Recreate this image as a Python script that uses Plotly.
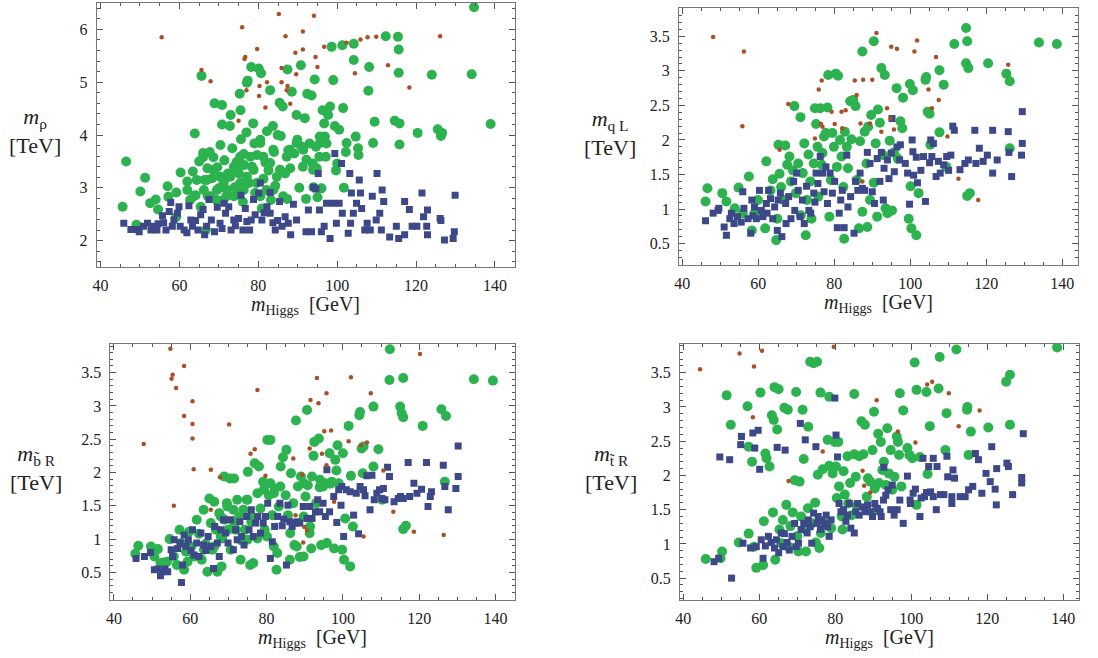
import plotly.graph_objects as go

# ---------------- data (m_Higgs [GeV], mass [TeV]) ----------------
RHO_GREEN = [(45.6,2.64),(46.5,3.50),(50.1,2.93),(51.3,3.19),(52.6,2.71),(54.0,2.78),(54.6,2.59),(57.0,3.03),(57.2,2.83),(59.2,2.91),(60.3,3.29),(62.0,3.12),(62.7,2.77),(63.4,3.31),(63.9,4.03),(64.1,2.86),(64.4,3.15),(65.0,3.50),(65.6,5.12),(65.4,2.64),(66.0,3.58),(66.4,3.15),(67.1,3.37),(67.2,2.84),(67.7,3.68),(68.3,3.18),(68.6,3.58),(68.9,4.60),(69.4,2.77),(69.6,3.39),(70.0,2.99),(70.4,3.81),(70.8,4.57),(70.8,4.20),(71.3,3.14),(71.4,3.52),(71.9,2.84),(72.3,3.27),(72.8,4.17),(73.0,4.38),(73.4,3.75),(73.8,3.40),(74.0,3.01),(74.5,3.49),(75.0,2.87),(75.1,3.27),(75.3,4.78),(75.5,4.47),(75.6,3.92),(76.1,2.73),(76.3,3.64),(76.4,3.43),(77.0,4.05),(77.1,4.99),(77.3,5.03),(77.6,3.09),(78.2,5.29),(78.4,3.40),(78.7,4.22),(79.0,3.84),(79.2,2.90),(79.7,3.62),(80.1,5.26),(80.5,3.91),(80.7,5.17),(80.9,2.61),(81.3,3.17),(81.8,3.48),(82.2,4.07),(82.6,3.33),(83.0,4.85),(83.2,2.77),(83.7,4.17),(84.0,3.68),(84.3,3.04),(84.9,4.00),(85.4,4.61),(85.7,3.98),(86.2,4.54),(86.8,3.27),(87.3,2.79),(87.4,5.24),(87.6,3.71),(88.1,3.37),(88.5,4.82),(89.1,3.65),(89.7,4.38),(89.9,3.91),(90.4,3.00),(90.8,5.32),(91.0,3.78),(91.3,3.40),(91.8,4.32),(92.1,2.79),(92.4,4.78),(93.0,3.84),(93.5,4.75),(93.8,3.46),(94.0,3.01),(94.3,5.05),(94.6,3.78),(95.0,2.82),(95.5,3.59),(96.0,2.99),(96.3,4.47),(96.7,4.22),(96.9,3.97),(97.3,3.84),(97.7,4.38),(98.2,4.54),(98.6,5.67),(99.0,5.04),(99.4,4.17),(99.7,3.33),(100.0,3.46),(100.5,4.10),(101.3,5.70),(101.5,4.51),(101.7,3.00),(102.2,3.68),(102.4,3.85),(104.2,5.73),(104.2,5.42),(104.7,3.97),(105.3,3.75),(105.4,3.62),(108.1,5.29),(107.9,4.84),(109.1,3.85),(109.5,4.25),(112.3,5.87),(114.6,4.27),(115.4,5.86),(115.6,5.62),(115.6,5.18),(115.8,4.22),(115.8,3.82),(120.4,4.04),(124.0,5.14),(125.5,4.11),(126.3,3.98),(126.6,4.04),(134.1,5.15),(134.7,6.42),(138.9,4.21),(97.1,3.59),(95.6,3.97),(94.8,3.37),(49.1,2.30),(59.2,2.45),(66.7,2.20),
             (66.0,3.66),(68.7,3.34),(70.4,3.21),(71.2,3.09),(72.1,2.96),(69.5,2.96),(72.9,3.21),(74.6,3.34),(75.4,3.09),(73.8,2.84),(76.3,2.96),(77.1,3.21),(78.8,3.34),(79.6,3.09),(78.0,3.59),(81.3,3.59),(80.5,3.85),(83.8,3.72),(83.0,3.47),(84.7,3.21),(85.5,3.34),(87.2,3.59),(83.8,2.96),(86.3,2.84),(88.0,3.72),(89.7,3.85),(91.4,3.72),(92.2,3.53),(93.9,3.34),(95.6,3.85),(67.0,3.15),(66.2,2.96),(67.9,2.84),(63.7,2.84),(62.0,2.96),(71.2,2.77),(75.4,3.59),(82.1,2.96),(80.5,2.84)]
RHO_BLUE = [(45.9,2.33),(47.7,2.21),(49.2,2.21),(49.8,2.17),(50.9,2.27),(51.9,2.33),(52.8,2.20),(53.4,2.27),(54.3,2.20),(54.6,2.32),(55.7,2.47),(56.0,2.34),(56.6,2.20),(57.4,2.55),(57.8,2.72),(58.2,2.27),(58.6,2.39),(59.5,2.52),(59.9,2.64),(60.2,2.27),(61.2,2.20),(61.9,2.15),(62.4,2.66),(62.9,2.39),(63.3,2.27),(64.1,2.38),(64.7,2.20),(65.4,2.49),(66.0,2.59),(66.4,2.11),(66.9,2.27),(67.5,2.78),(68.1,2.39),(68.9,2.17),(69.6,2.63),(70.3,2.33),(70.8,2.23),(71.3,2.71),(71.7,2.52),(72.5,2.64),(73.1,2.20),(73.8,2.39),(74.2,2.28),(75.0,2.42),(75.6,2.86),(76.1,2.20),(76.7,2.61),(77.1,2.36),(77.8,2.20),(78.2,2.39),(78.8,2.78),(79.2,2.49),(80.1,2.90),(80.5,3.09),(80.9,2.39),(81.5,2.53),(82.2,2.64),(83.0,2.91),(83.0,2.52),(83.7,2.34),(84.3,2.20),(84.9,2.38),(85.4,2.74),(86.0,2.27),(86.8,2.45),(87.6,2.33),(88.2,2.11),(88.9,2.69),(89.7,2.39),(92.1,2.17),(92.7,2.58),(93.5,2.17),(94.0,3.01),(94.6,2.98),(95.2,3.27),(95.5,2.58),(96.0,2.17),(96.7,2.27),(97.3,2.71),(98.2,2.04),(99.0,2.71),(99.4,3.65),(99.8,2.33),(100.5,2.71),(101.1,3.46),(101.3,2.52),(102.8,2.14),(103.2,3.27),(103.4,2.33),(103.6,2.90),(104.1,2.52),(104.9,2.71),(105.6,3.15),(105.9,2.90),(106.2,2.61),(107.0,2.20),(107.6,2.33),(108.4,2.20),(108.9,2.84),(109.9,2.39),(110.1,3.27),(110.8,2.52),(111.2,2.20),(111.4,2.96),(111.8,2.74),(113.3,2.07),(115.0,2.27),(115.6,2.04),(117.1,2.74),(117.1,2.11),(118.3,2.59),(119.0,2.27),(120.2,2.27),(121.5,2.90),(121.9,2.45),(122.7,2.27),(122.9,2.58),(122.9,2.11),(126.1,2.42),(126.3,2.38),(127.2,2.01),(129.4,2.04),(129.7,2.17),(129.9,2.86)]
RHO_BROWN = [(55.5,5.85),(65.6,5.23),(67.9,5.02),(75.9,6.04),(76.5,5.44),(76.7,5.48),(77.0,4.85),(79.7,5.63),(80.3,4.93),(80.2,4.74),(81.8,4.52),(82.2,5.00),(75.0,4.27),(85.2,6.29),(86.9,5.87),(85.9,5.27),(85.9,5.00),(87.2,4.85),(87.4,4.93),(88.1,4.59),(89.4,5.56),(89.6,5.15),(91.3,5.96),(91.3,5.62),(94.1,6.26),(94.5,5.48),(95.0,5.29),(96.7,5.67),(102.4,5.75),(104.5,5.17),(105.9,5.81),(107.7,5.85),(109.9,5.86),(112.9,5.32),(118.3,4.90),(126.1,5.87)]

QL_GREEN = [(46.1,1.11),(46.6,1.30),(50.5,1.23),(51.6,1.11),(53.8,1.01),(54.8,1.31),(55.9,0.94),(57.5,1.47),(58.3,0.69),(59.0,0.94),(59.9,1.13),(61.8,0.72),(62.1,1.69),(63.2,1.27),(63.8,1.43),(64.7,0.55),(65.0,0.86),(65.3,1.93),(65.6,1.51),(66.0,1.32),(66.7,1.13),(67.1,1.92),(67.6,1.64),(68.2,1.76),(68.6,1.40),(69.1,1.56),(69.5,2.49),(69.9,1.23),(70.5,1.66),(71.1,2.33),(71.2,0.91),(71.7,1.52),(72.1,1.95),(72.5,0.62),(72.8,1.13),(73.2,1.79),(73.7,1.40),(74.0,0.86),(74.6,1.66),(74.9,2.46),(75.2,2.23),(75.6,1.90),(75.8,1.18),(76.3,2.46),(76.7,1.64),(76.9,1.81),(77.3,2.05),(77.8,2.10),(78.2,2.47),(78.4,2.94),(78.7,0.89),(79.1,1.42),(79.5,2.10),(79.9,1.90),(80.4,2.96),(80.7,1.61),(81.0,2.93),(81.5,2.00),(81.9,1.76),(82.4,1.32),(82.6,0.57),(82.8,2.12),(83.3,1.90),(83.6,1.59),(84.2,2.56),(84.5,2.01),(85.0,2.58),(85.6,2.49),(85.9,1.42),(86.5,0.72),(86.8,1.98),(87.4,3.28),(87.4,0.96),(88.0,2.12),(88.5,1.66),(88.7,0.74),(88.9,2.19),(89.4,1.13),(89.7,2.36),(90.4,3.43),(90.4,1.38),(90.9,1.95),(91.3,0.89),(91.5,2.44),(92.0,2.25),(92.4,3.04),(92.9,1.78),(93.3,2.94),(93.5,1.01),(94.0,0.94),(94.6,1.99),(95.2,0.98),(95.7,1.82),(96.4,2.75),(96.7,1.73),(97.4,2.27),(97.9,2.17),(98.1,2.61),(99.6,0.86),(99.9,2.81),(100.1,1.33),(100.3,0.72),(100.7,2.72),(101.6,0.62),(102.2,1.23),(104.0,2.87),(104.2,2.91),(104.6,2.41),(105.1,2.38),(105.3,1.93),(107.7,3.01),(107.7,2.11),(108.8,2.80),(109.5,1.61),(111.6,3.39),(114.7,3.62),(115.0,3.43),(114.7,3.11),(115.3,3.04),(115.0,1.19),(115.7,1.23),(120.5,3.11),(125.3,2.96),(126.2,2.85),(126.2,1.88),(133.9,3.41),(138.6,3.39)]
QL_BLUE = [(46.1,0.83),(48.1,0.94),(49.4,0.98),(49.6,1.01),(51.0,0.74),(51.6,0.62),(52.5,0.86),(52.9,0.94),(53.6,0.79),(54.5,0.89),(55.5,0.81),(55.9,1.25),(56.2,1.01),(57.3,0.86),(58.0,0.65),(58.3,1.13),(58.6,0.90),(59.0,1.03),(59.5,0.86),(60.3,1.27),(60.8,0.98),(61.2,0.89),(62.1,1.08),(62.3,0.94),(62.7,1.27),(63.2,1.15),(63.8,0.86),(64.3,1.03),(65.0,0.69),(65.2,1.13),(65.8,1.23),(66.2,0.60),(67.2,1.08),(67.3,0.79),(68.0,1.18),(68.6,0.86),(69.3,1.40),(69.6,0.98),(70.1,1.52),(70.5,1.27),(71.0,0.89),(71.6,1.13),(72.1,0.79),(72.7,1.33),(73.3,0.98),(73.8,0.94),(74.6,1.23),(74.9,1.10),(75.2,1.52),(75.7,1.37),(76.3,1.76),(76.9,1.52),(77.3,1.25),(77.8,1.61),(78.2,1.08),(78.9,1.52),(79.5,1.23),(80.1,1.40),(80.8,0.73),(81.3,0.94),(81.7,1.13),(82.1,1.27),(82.6,0.73),(83.3,1.78),(83.6,1.03),(84.3,1.18),(85.2,0.65),(85.6,1.40),(86.2,1.27),(86.8,1.52),(87.4,1.30),(88.0,1.27),(88.7,1.82),(89.4,1.66),(90.0,1.25),(90.6,1.08),(91.3,1.73),(92.0,1.40),(92.4,1.82),(92.9,1.13),(93.1,1.59),(94.0,1.71),(94.4,1.44),(95.0,1.81),(95.2,2.31),(95.8,1.54),(96.5,1.90),(97.2,1.71),(97.4,1.93),(98.7,1.66),(99.3,1.52),(99.8,1.07),(100.5,2.00),(100.7,1.83),(100.9,1.49),(101.6,1.75),(101.9,1.38),(102.8,1.56),(103.5,1.76),(104.0,1.11),(105.1,1.67),(105.4,2.00),(105.7,1.76),(106.1,1.95),(106.8,1.47),(107.4,1.69),(107.9,1.52),(108.8,1.64),(109.6,1.76),(110.1,1.56),(110.7,1.78),(111.2,2.20),(111.6,2.14),(113.1,1.57),(114.4,1.66),(115.3,1.71),(117.0,2.14),(117.3,1.66),(118.2,1.88),(119.2,1.69),(120.3,1.78),(121.7,1.52),(121.7,2.14),(122.9,1.71),(125.8,2.12),(126.0,1.82),(126.7,1.47),(129.3,1.78),(129.5,1.95),(129.5,2.41)]
QL_BROWN = [(48.1,3.49),(56.2,3.28),(55.8,2.20),(67.9,2.52),(75.9,2.73),(76.7,2.86),(74.9,2.02),(76.5,2.23),(76.9,2.19),(79.3,2.41),(80.1,2.23),(81.9,2.41),(83.0,2.43),(82.1,2.17),(85.4,2.86),(85.9,2.65),(86.9,2.24),(87.4,1.40),(87.6,2.87),(89.4,2.24),(90.0,2.87),(91.1,3.55),(92.4,2.12),(93.9,2.46),(94.8,2.31),(95.0,3.35),(96.5,3.32),(95.7,2.15),(101.1,3.28),(101.8,3.44),(104.8,2.73),(105.7,2.46),(106.8,3.20),(107.5,2.58),(109.8,2.05),(112.7,1.44),(117.9,1.13),(125.8,3.09),(65.6,1.86)]

BR_GREEN = [(45.6,0.78),(46.4,0.90),(49.7,0.89),(50.6,0.74),(51.5,0.85),(52.2,0.64),(53.0,0.65),(53.9,0.66),(54.6,1.00),(55.7,0.74),(56.5,0.61),(57.2,1.14),(57.6,0.94),(58.4,0.54),(58.9,0.81),(59.3,0.66),(59.7,1.11),(60.3,0.89),(61.0,0.74),(61.7,1.29),(62.3,1.08),(63.0,0.69),(63.5,1.44),(64.1,0.93),(64.5,0.51),(65.0,1.61),(65.4,1.24),(65.8,0.84),(66.3,1.56),(66.7,1.14),(67.1,0.51),(67.6,1.39),(68.2,0.59),(68.4,1.01),(68.9,1.94),(69.0,1.29),(69.6,1.54),(69.9,1.14),(70.4,1.91),(70.6,0.84),(71.3,1.44),(71.5,1.91),(71.9,1.14),(72.3,1.59),(72.8,1.34),(73.4,0.98),(73.9,1.44),(74.3,1.14),(74.8,1.59),(75.1,2.01),(75.7,0.61),(76.0,1.26),(76.5,0.64),(76.9,2.14),(77.6,1.01),(78.0,2.09),(78.4,1.46),(79.1,1.86),(79.5,1.14),(80.2,2.49),(80.6,1.66),(81.0,2.49),(81.5,1.36),(82.1,1.76),(82.6,0.54),(82.8,0.79),(83.2,1.49),(83.7,2.09),(84.3,2.23),(85.0,1.66),(85.2,2.34),(85.6,1.36),(86.1,0.69),(86.4,1.99),(87.0,1.54),(87.3,0.91),(87.7,2.78),(88.2,1.79),(88.7,0.73),(89.0,1.94),(89.7,1.34),(90.2,1.64),(90.6,2.94),(90.8,1.81),(91.3,1.09),(91.7,0.86),(91.9,1.94),(92.3,2.25),(92.5,2.46),(93.0,1.54),(93.7,2.51),(93.9,1.78),(94.3,0.91),(94.8,1.79),(95.4,1.84),(95.8,0.94),(96.5,2.29),(96.7,1.83),(97.1,1.86),(97.7,0.86),(98.0,2.19),(98.3,2.03),(98.6,2.41),(98.9,1.84),(99.8,0.84),(100.0,2.29),(100.3,0.69),(100.6,1.31),(101.5,2.70),(101.9,0.59),(102.1,1.95),(102.6,1.19),(104.3,2.86),(104.5,2.91),(104.9,2.36),(105.2,1.99),(105.4,2.39),(108.0,2.99),(108.0,2.09),(109.3,2.35),(110.3,1.59),(112.3,3.85),(112.2,3.39),(115.0,2.99),(115.4,2.89),(115.8,3.42),(115.8,2.83),(115.8,1.15),(116.5,1.20),(120.9,2.70),(125.8,2.95),(127.0,2.85),(126.7,1.86),(134.3,3.40),(139.3,3.38),
            (68.0,1.34),(69.7,1.49),(71.5,1.24),(75.0,1.59),(75.8,1.34),(77.6,1.69),(79.3,1.74),(81.0,1.84),(81.9,1.69),(83.6,1.79),(66.3,0.89),(68.0,1.04),(63.6,0.84),(73.2,0.69),(87.9,0.89),(89.7,0.74),(91.4,1.19),(86.2,1.09),(89.7,1.84),(94.0,1.89),(80.1,1.04),(81.9,0.89),(75.0,0.99)]
BR_BLUE = [(45.8,0.71),(48.0,0.74),(49.6,0.80),(50.6,0.54),(51.5,0.55),(52.2,0.45),(52.8,0.51),(53.4,0.55),(54.1,0.51),(55.0,0.84),(55.4,0.74),(55.8,0.99),(56.7,0.86),(57.4,0.94),(57.7,0.35),(58.0,0.61),(58.4,1.06),(58.9,0.89),(59.5,0.99),(60.2,0.83),(60.6,1.14),(61.0,0.76),(61.7,0.94),(62.3,0.74),(62.8,1.09),(63.5,0.91),(64.1,0.83),(64.7,1.04),(65.4,0.89),(66.1,0.56),(66.4,1.19),(67.1,0.94),(67.6,0.74),(68.0,1.14),(68.7,1.29),(69.3,1.09),(69.9,0.94),(70.6,1.29),(71.3,0.84),(71.9,1.14),(72.3,0.99),(73.0,1.26),(73.4,1.04),(74.1,0.91),(74.8,1.34),(75.4,1.14),(76.0,1.44),(76.5,1.04),(77.1,1.24),(77.7,1.34),(78.4,1.09),(79.1,1.24),(79.7,1.34),(80.3,1.54),(81.0,0.71),(81.5,0.96),(82.1,1.19),(82.9,1.34),(83.5,1.54),(84.1,1.20),(84.5,1.30),(85.2,0.61),(85.6,1.51),(86.1,1.26),(86.7,1.19),(87.3,1.24),(88.0,1.26),(88.7,1.24),(89.6,1.49),(90.6,1.31),(91.3,1.49),(91.9,1.31),(92.8,1.41),(93.4,1.59),(93.9,1.41),(94.8,1.54),(95.4,1.34),(95.8,2.04),(96.5,1.41),(97.6,1.64),(98.4,1.25),(98.9,1.74),(99.5,1.51),(99.7,1.79),(100.2,1.04),(100.9,1.74),(101.9,1.71),(102.8,1.36),(103.5,1.69),(104.1,1.08),(104.5,1.79),(105.4,1.74),(105.8,1.65),(106.3,1.95),(107.1,1.44),(107.6,1.96),(108.2,1.59),(108.9,1.69),(109.6,1.74),(110.2,1.61),(110.6,1.76),(111.0,1.59),(111.7,2.08),(112.2,1.94),(113.4,1.56),(114.5,1.61),(115.1,1.64),(115.8,1.61),(117.1,2.15),(117.5,1.64),(118.6,1.84),(119.4,1.69),(120.6,1.75),(121.9,2.15),(122.3,1.49),(122.9,1.64),(123.2,1.71),(126.3,2.11),(126.7,1.79),(127.6,1.44),(129.6,1.76),(130.2,1.94),(130.2,2.40)]
BR_BROWN = [(54.8,3.86),(55.1,3.41),(55.4,3.47),(56.3,3.27),(58.4,3.60),(58.4,2.85),(60.6,3.07),(60.6,2.73),(60.6,2.51),(60.9,2.05),(47.8,2.43),(55.7,1.50),(65.4,2.04),(65.4,1.44),(67.8,1.93),(70.2,2.72),(75.8,2.28),(76.9,2.35),(77.6,3.24),(79.7,1.95),(87.0,2.21),(87.6,1.36),(89.3,1.97),(89.6,0.95),(89.9,1.18),(90.6,1.13),(91.3,2.36),(91.5,3.09),(93.2,3.42),(93.6,3.04),(94.5,2.28),(95.1,2.62),(95.7,3.19),(96.9,2.63),(95.7,2.11),(97.7,1.56),(101.5,2.47),(102.1,3.43),(104.7,2.41),(106.3,2.45),(105.4,1.04),(107.3,3.19),(110.6,2.03),(113.2,1.41),(118.6,1.11),(120.2,3.78),(126.4,1.06)]

TR_GREEN = [(45.9,0.78),(50.2,0.89),(49.8,0.79),(51.4,3.17),(52.5,2.74),(54.6,1.02),(56.9,3.01),(57.2,1.15),(57.2,2.42),(58.1,2.20),(58.6,0.96),(59.2,0.65),(60.3,3.21),(61.0,0.69),(61.2,1.33),(61.6,2.32),(61.9,2.25),(62.7,2.13),(63.6,1.46),(63.3,2.88),(63.8,2.81),(64.0,3.29),(64.2,0.77),(64.7,2.67),(65.1,3.26),(65.3,1.21),(65.8,1.01),(66.2,1.35),(66.6,2.99),(67.1,1.57),(67.5,2.96),(67.7,0.96),(68.2,1.26),(68.8,1.46),(69.3,1.93),(69.7,3.22),(70.0,1.11),(70.3,0.89),(70.6,1.91),(71.0,1.40),(71.4,2.96),(71.7,2.24),(72.1,1.21),(72.3,0.89),(72.8,1.52),(72.9,2.71),(73.4,3.66),(73.8,1.30),(74.3,3.64),(74.7,1.60),(74.9,1.02),(75.2,3.66),(75.4,2.01),(75.8,0.94),(76.1,3.21),(76.2,1.16),(76.7,2.09),(77.3,1.30),(78.0,2.52),(78.4,3.15),(78.4,2.14),(78.9,1.23),(79.3,2.03),(79.9,2.49),(80.2,2.13),(80.4,1.67),(80.8,2.49),(81.0,1.84),(81.7,1.40),(81.9,1.21),(82.2,2.06),(82.5,1.72),(83.2,2.28),(83.4,1.59),(83.9,1.89),(84.3,1.42),(85.0,3.19),(85.0,2.31),(85.4,1.98),(85.7,1.56),(86.3,2.28),(86.9,2.79),(87.4,2.31),(87.8,2.74),(88.3,1.69),(88.6,1.96),(89.2,1.91),(89.8,2.37),(90.2,2.93),(90.4,1.81),(90.9,1.50),(91.3,2.61),(91.5,1.89),(92.0,2.49),(92.4,2.08),(92.8,2.20),(93.3,1.86),(93.7,2.69),(94.1,2.03),(94.6,2.37),(95.0,1.79),(95.6,1.98),(96.2,2.57),(96.5,2.49),(96.8,2.30),(97.0,3.20),(97.4,1.84),(97.9,2.95),(99.0,2.40),(99.5,2.30),(100.3,2.25),(100.9,3.65),(101.4,3.25),(101.4,1.57),(102.3,2.27),(104.0,3.22),(104.3,2.02),(104.9,2.72),(107.5,3.73),(107.2,3.27),(109.0,2.37),(109.3,2.91),(111.9,3.84),(114.7,2.96),(114.8,3.00),(115.1,2.30),(115.7,2.64),(120.3,2.70),(125.0,3.37),(126.0,3.47),(126.0,2.74),(138.4,3.87)]
TR_BLUE = [(48.1,0.74),(49.3,0.79),(49.6,2.27),(52.2,2.23),(52.7,0.50),(55.3,2.57),(55.1,2.45),(55.7,1.01),(57.7,0.94),(58.3,2.62),(58.8,2.40),(59.2,0.96),(59.7,2.66),(60.1,2.09),(60.5,1.06),(61.0,0.79),(61.6,0.97),(62.4,1.11),(63.1,1.02),(64.0,0.94),(64.5,1.06),(64.7,2.41),(65.1,0.87),(65.8,1.16),(66.2,0.96),(66.6,1.15),(66.8,2.37),(67.3,1.02),(67.9,0.91),(68.6,1.11),(69.3,1.30),(69.7,0.96),(70.3,1.01),(70.8,2.76),(71.0,1.21),(71.7,1.30),(72.1,2.52),(72.6,1.16),(72.9,1.35),(73.4,1.25),(73.8,1.01),(74.3,1.45),(74.9,2.42),(75.2,1.30),(75.5,1.40),(76.1,1.21),(76.4,1.35),(77.1,1.30),(77.6,1.42),(78.0,1.25),(78.4,1.11),(78.9,1.35),(79.9,3.13),(80.2,2.59),(80.6,2.27),(81.0,1.59),(81.5,1.47),(82.2,1.50),(82.8,1.33),(83.2,1.42),(83.7,1.59),(84.1,1.23),(85.0,1.16),(85.4,1.47),(85.9,1.59),(86.3,1.42),(87.2,1.54),(87.8,1.47),(88.5,1.57),(89.2,1.47),(89.8,1.40),(90.4,1.59),(91.1,1.52),(91.8,1.47),(92.1,1.40),(92.7,1.64),(92.8,2.12),(93.3,1.71),(93.9,1.79),(94.6,1.50),(95.0,1.86),(95.5,1.42),(96.3,1.50),(97.0,1.64),(97.9,1.30),(99.0,1.99),(99.7,1.64),(99.8,1.59),(100.5,1.74),(101.1,1.80),(102.3,1.40),(102.6,1.67),(103.1,2.25),(103.5,1.69),(104.0,1.75),(104.6,2.13),(105.1,1.76),(105.8,2.25),(105.8,1.69),(106.6,1.50),(106.8,2.13),(107.7,1.72),(108.6,1.72),(109.4,2.28),(109.6,1.98),(110.7,1.69),(110.7,1.59),(111.0,2.08),(111.4,1.96),(112.9,1.69),(114.2,1.69),(115.1,1.79),(116.2,1.84),(116.9,2.32),(117.7,2.23),(118.6,1.74),(119.7,2.03),(120.8,1.91),(121.2,2.42),(122.1,1.80),(122.4,1.57),(122.5,2.10),(125.2,2.18),(125.6,2.13),(126.7,1.72),(129.1,1.89),(129.1,1.97),(129.5,2.61)]
TR_BROWN = [(44.4,3.55),(54.8,3.78),(58.6,3.59),(60.7,3.82),(58.3,2.85),(79.6,3.88),(76.7,2.35),(67.7,1.92),(87.2,2.07),(87.6,1.85),(89.2,1.75),(90.9,3.10),(96.5,2.64),(101.1,2.48),(104.2,3.33),(105.5,3.37),(109.9,3.20),(112.5,2.72),(118.0,2.95)]

X_TICKS = [40, 60, 80, 100, 120, 140]
Y_TICKS_RHO = [2, 3, 4, 5, 6]
Y_TICKS_SQ = [0.5, 1, 1.5, 2, 2.5, 3, 3.5]

Y_LABELS = ["<i>m</i><sub>ρ</sub><br>[TeV]",
            "<i>m</i><sub>q L</sub><br>[TeV]",
            "<i>m</i><sub>b\u0303 R</sub><br>[TeV]",
            "<i>m</i><sub>t\u0303 R</sub><br>[TeV]"]
X_LABEL = "<i>m</i><sub>Higgs</sub>  [GeV]"

# ---------------- styling ----------------
GREEN = "rgb(44,178,78)"
BLUE = "rgb(60,72,135)"
BROWN = "rgb(170,80,40)"
FONT = "Liberation Serif"

panels = [
    dict(data=(RHO_GREEN, RHO_BLUE, RHO_BROWN), xd=[0.0838, 0.4663], yd=[0.5942, 0.9954],
         xr=[39.0, 145.0], yr=[1.5, 6.5], yt=Y_TICKS_RHO, ymin=0.2, lx=0.0273),
    dict(data=(QL_GREEN, QL_BLUE, QL_BROWN), xd=[0.6166, 0.9818], yd=[0.5973, 0.9878],
         xr=[39.1, 144.2], yr=[0.19, 3.91], yt=Y_TICKS_SQ, ymin=0.1, lx=0.5537),
    dict(data=(BR_GREEN, BR_BLUE, BR_BROWN), xd=[0.0965, 0.4663], yd=[0.0881, 0.4772],
         xr=[39.1, 145.0], yr=[0.085, 3.93], yt=Y_TICKS_SQ, ymin=0.1, lx=0.0282),
    dict(data=(TR_GREEN, TR_BLUE, TR_BROWN), xd=[0.6175, 0.9827], yd=[0.0881, 0.4772],
         xr=[39.1, 144.2], yr=[0.18, 3.92], yt=Y_TICKS_SQ, ymin=0.1, lx=0.5546),
]

fig = go.Figure()
layout = dict(width=1098, height=658, margin=dict(l=0, r=0, t=0, b=0),
              paper_bgcolor="white", plot_bgcolor="white", showlegend=False,
              font=dict(family=FONT, size=16, color="#222"))
annotations = []

for i, p in enumerate(panels):
    n = "" if i == 0 else str(i + 1)
    g, b, r = p["data"]
    for pts, sym, size, col in ((g, "circle", 10, GREEN), (b, "square", 7, BLUE), (r, "circle", 4.5, BROWN)):
        fig.add_trace(go.Scatter(
            x=[q[0] for q in pts], y=[q[1] for q in pts], mode="markers",
            marker=dict(symbol=sym, size=size, color=col, line=dict(width=0)),
            xaxis="x" + n, yaxis="y" + n, hoverinfo="skip"))
    common = dict(showline=True, linecolor="#777", linewidth=1, mirror="ticks",
                  ticks="inside", ticklen=6, tickwidth=1, tickcolor="#555",
                  showgrid=False, zeroline=False, tickfont=dict(family=FONT, size=16, color="#222"))
    layout["xaxis" + n] = dict(common, domain=p["xd"], range=p["xr"], anchor="y" + n,
                               tickmode="array", tickvals=X_TICKS, ticklabelstandoff=4,
                               minor=dict(ticks="inside", ticklen=3, dtick=5, tick0=0,
                                          tickcolor="#555", showgrid=False))
    layout["yaxis" + n] = dict(common, domain=p["yd"], range=p["yr"], anchor="x" + n,
                               tickmode="array", tickvals=p["yt"], ticklabelstandoff=5,
                               minor=dict(ticks="inside", ticklen=3, dtick=p["ymin"], tick0=0,
                                          tickcolor="#555", showgrid=False))
    xc = (p["xd"][0] + p["xd"][1]) / 2
    annotations.append(dict(text=X_LABEL, xref="paper", yref="paper", x=xc,
                            y=p["yd"][0] - 0.058, xanchor="center", yanchor="middle",
                            showarrow=False, font=dict(family=FONT, size=20, color="#222")))
    annotations.append(dict(text=Y_LABELS[i], xref="paper", yref="paper",
                            x=p["lx"],
                            y=(p["yd"][0] + p["yd"][1]) / 2 + 0.0055, xanchor="center", yanchor="middle",
                            showarrow=False, align="center",
                            font=dict(family=FONT, size=22, color="#222")))

layout["annotations"] = annotations
fig.update_layout(**layout)
fig.write_html("out.html", config={"displayModeBar": False},
               post_script="document.body.style.margin='0';")
